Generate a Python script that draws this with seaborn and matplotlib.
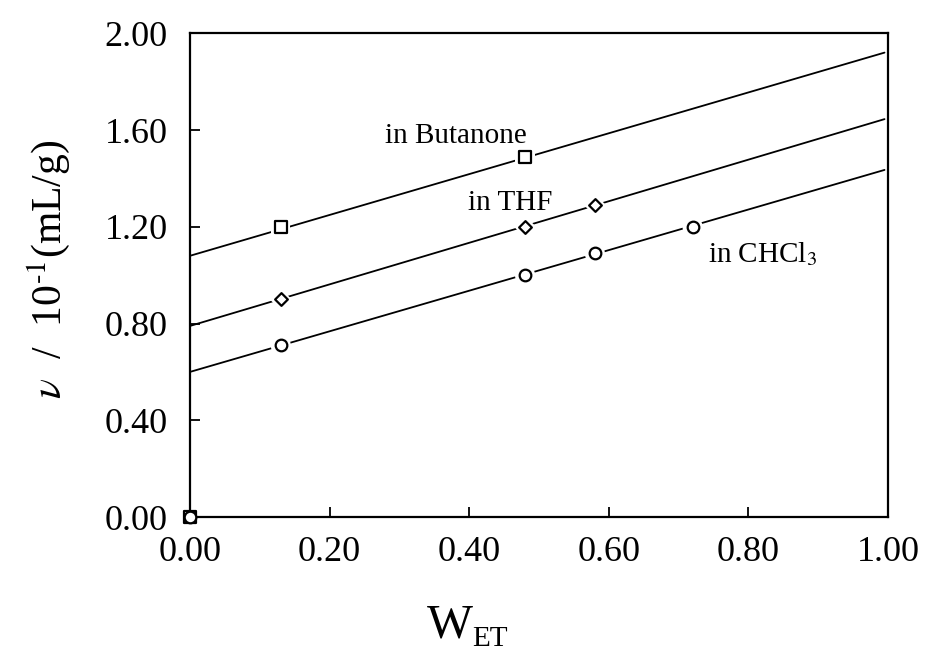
import numpy as np
import pandas as pd
import matplotlib
matplotlib.use("Agg")
import matplotlib.pyplot as plt
import seaborn as sns

# datos
w_but = [0.0, 0.13, 0.48]
v_but = [0.0, 1.20, 1.49]
w_thf = [0.13, 0.48, 0.58]
v_thf = [0.90, 1.20, 1.29]
w_chcl3 = [0.0, 0.13, 0.48, 0.58, 0.72]
v_chcl3 = [0.0, 0.71, 1.00, 1.09, 1.20]

# rectas ajustadas (extremos)
fit_x = [0.0, 0.995]
fit_but = [1.08, 1.92]
fit_thf = [0.79, 1.645]
fit_chcl3 = [0.60, 1.435]

xticks = [0.0, 0.2, 0.4, 0.6, 0.8, 1.0]
yticks = [0.0, 0.4, 0.8, 1.2, 1.6, 2.0]

sns.set_style('ticks', {'axes.edgecolor': 'black', 'text.color': 'black',
                        'xtick.color': 'black', 'ytick.color': 'black',
                        'axes.labelcolor': 'black'})
plt.rcParams['font.family'] = ['Liberation Serif', 'DejaVu Serif']
plt.rcParams['mathtext.fontset'] = 'stix'

fig = plt.figure(figsize=(9.25, 6.52), dpi=100)
ax = fig.add_axes([0.2054, 0.207, 0.7546, 0.742])

for fx, fy in [(fit_x, fit_but), (fit_x, fit_thf), (fit_x, fit_chcl3)]:
    df = pd.DataFrame({'x': fx, 'y': fy})
    sns.lineplot(data=df, x='x', y='y', ax=ax, color='black', lw=1.3, zorder=1)

series = [(w_but, v_but, 's', 65), (w_thf, v_thf, 'D', 42), (w_chcl3, v_chcl3, 'o', 70)]
for wx, vy, mk, s in series:
    df = pd.DataFrame({'x': wx, 'y': vy})
    # hueco blanco alrededor del marcador
    sns.scatterplot(data=df, x='x', y='y', ax=ax, marker=mk, s=s * 3,
                    color='white', edgecolor='none', zorder=2, clip_on=False)
    sns.scatterplot(data=df, x='x', y='y', ax=ax, marker=mk, s=s,
                    facecolor='white', edgecolor='black', linewidth=1.6,
                    zorder=3, clip_on=False)

ax.text(0.279, 1.545, 'in Butanone', fontsize=21, va='baseline', ha='left')
ax.text(0.398, 1.269, 'in THF', fontsize=21, va='baseline', ha='left')
ax.text(0.742, 1.054, r'in CHCl$_3$', fontsize=21, va='baseline', ha='left')

ax.set_xlim(0, 1)
ax.set_ylim(0, 2)
ax.set_xticks(xticks)
ax.set_yticks(yticks)
ax.set_xticklabels([f'{t:.2f}' for t in xticks])
ax.set_yticklabels([f'{t:.2f}' for t in yticks])
ax.tick_params(direction='in', length=7, width=1.3, labelsize=26, pad=14)
ax.tick_params(axis='y', pad=16)
for sp in ax.spines.values():
    sp.set_linewidth(1.6)
    sp.set_visible(True)

ax.set_xlabel('')
ax.set_ylabel(r'$\nu$  /  10$^{\text{-1}}$(mL/g)', fontsize=30)
ax.yaxis.set_label_coords(-0.169, 0.512)

# W_ET con subindice, como en el original
fig.text(0.4616, 0.022, 'W', fontsize=35, va='baseline', ha='left')
fig.text(0.510, 0.009, 'ET', fontsize=21, va='baseline', ha='left')

fig.savefig('out.png', dpi=100)
